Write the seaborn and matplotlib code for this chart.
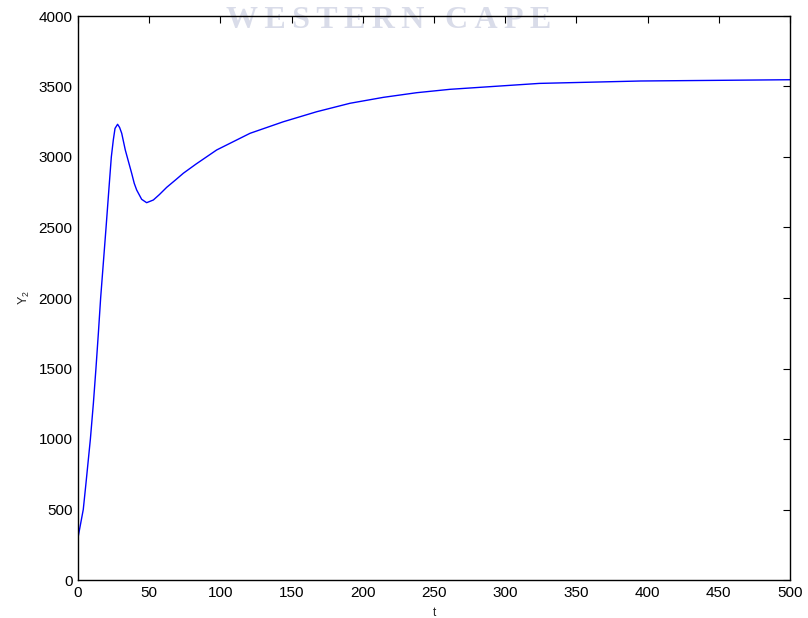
import matplotlib
matplotlib.use("Agg")
import matplotlib.pyplot as plt
import seaborn as sns
import pandas as pd

t_vals = [0, 3.7, 5.6, 8.7, 10.8, 12.6, 14.3, 15.9, 19.7, 22.0, 23.4, 24.8, 26.0,
          27.8, 29.2, 30.7, 33.2, 37.7, 39.5, 41.2, 44.7, 48.2, 52.9, 57.1, 62.3,
          68.8, 74.0, 82.9, 97.4, 120.8, 144.2, 167.6, 191.0, 214.4, 237.8, 261.2,
          324.0, 395.0, 500.0]
y2_vals = [300, 500, 686, 1000, 1253, 1500, 1750, 2000, 2500, 2813, 3000, 3121, 3203,
           3232, 3210, 3168, 3050, 2884, 2813, 2766, 2700, 2676, 2695, 2733, 2785,
           2840, 2885, 2950, 3050, 3168, 3250, 3321, 3381, 3423, 3456, 3480,
           3522, 3539, 3548]

x_ticks = [0, 50, 100, 150, 200, 250, 300, 350, 400, 450, 500]
y_ticks = [0, 500, 1000, 1500, 2000, 2500, 3000, 3500, 4000]

df = pd.DataFrame({"t": t_vals, "Y2": y2_vals})

sns.set_style("white")
plt.rcParams['font.family'] = ['Liberation Sans', 'DejaVu Sans']

fig = plt.figure(figsize=(8.08, 6.18), dpi=100)
ax = fig.add_axes([78/808, 38/618, 712/808, 564/618])
ax.patch.set_alpha(0)

sns.lineplot(data=df, x="t", y="Y2", ax=ax, color=(0, 0, 1), linewidth=1.0,
             sort=False, estimator=None)

ax.set_xlim(0, 500)
ax.set_ylim(0, 4000)
ax.set_xticks(x_ticks)
ax.set_yticks(y_ticks)
ax.tick_params(direction="in", length=5, width=0.8, labelsize=11, colors="black",
               top=True, right=True, pad=4)
for s in ax.spines.values():
    s.set_visible(True)
    s.set_color("black")
    s.set_linewidth(1.0)
ax.set_xlabel("t", fontsize=8.5, labelpad=5)
ax.set_ylabel(r"$\mathregular{Y_2}$", fontsize=9, labelpad=5)

ts = "\u2009"
watermark = ts.join("WESTERN") + " " + ts + ts + ts.join("CAPE")
fig.text(389/808, 1 - 20/618, watermark, ha="center", va="center",
         fontsize=23, fontweight="bold", family=["Liberation Serif", "DejaVu Serif"],
         color="#d9dce9", zorder=-1)

fig.savefig("out.png", dpi=100)
